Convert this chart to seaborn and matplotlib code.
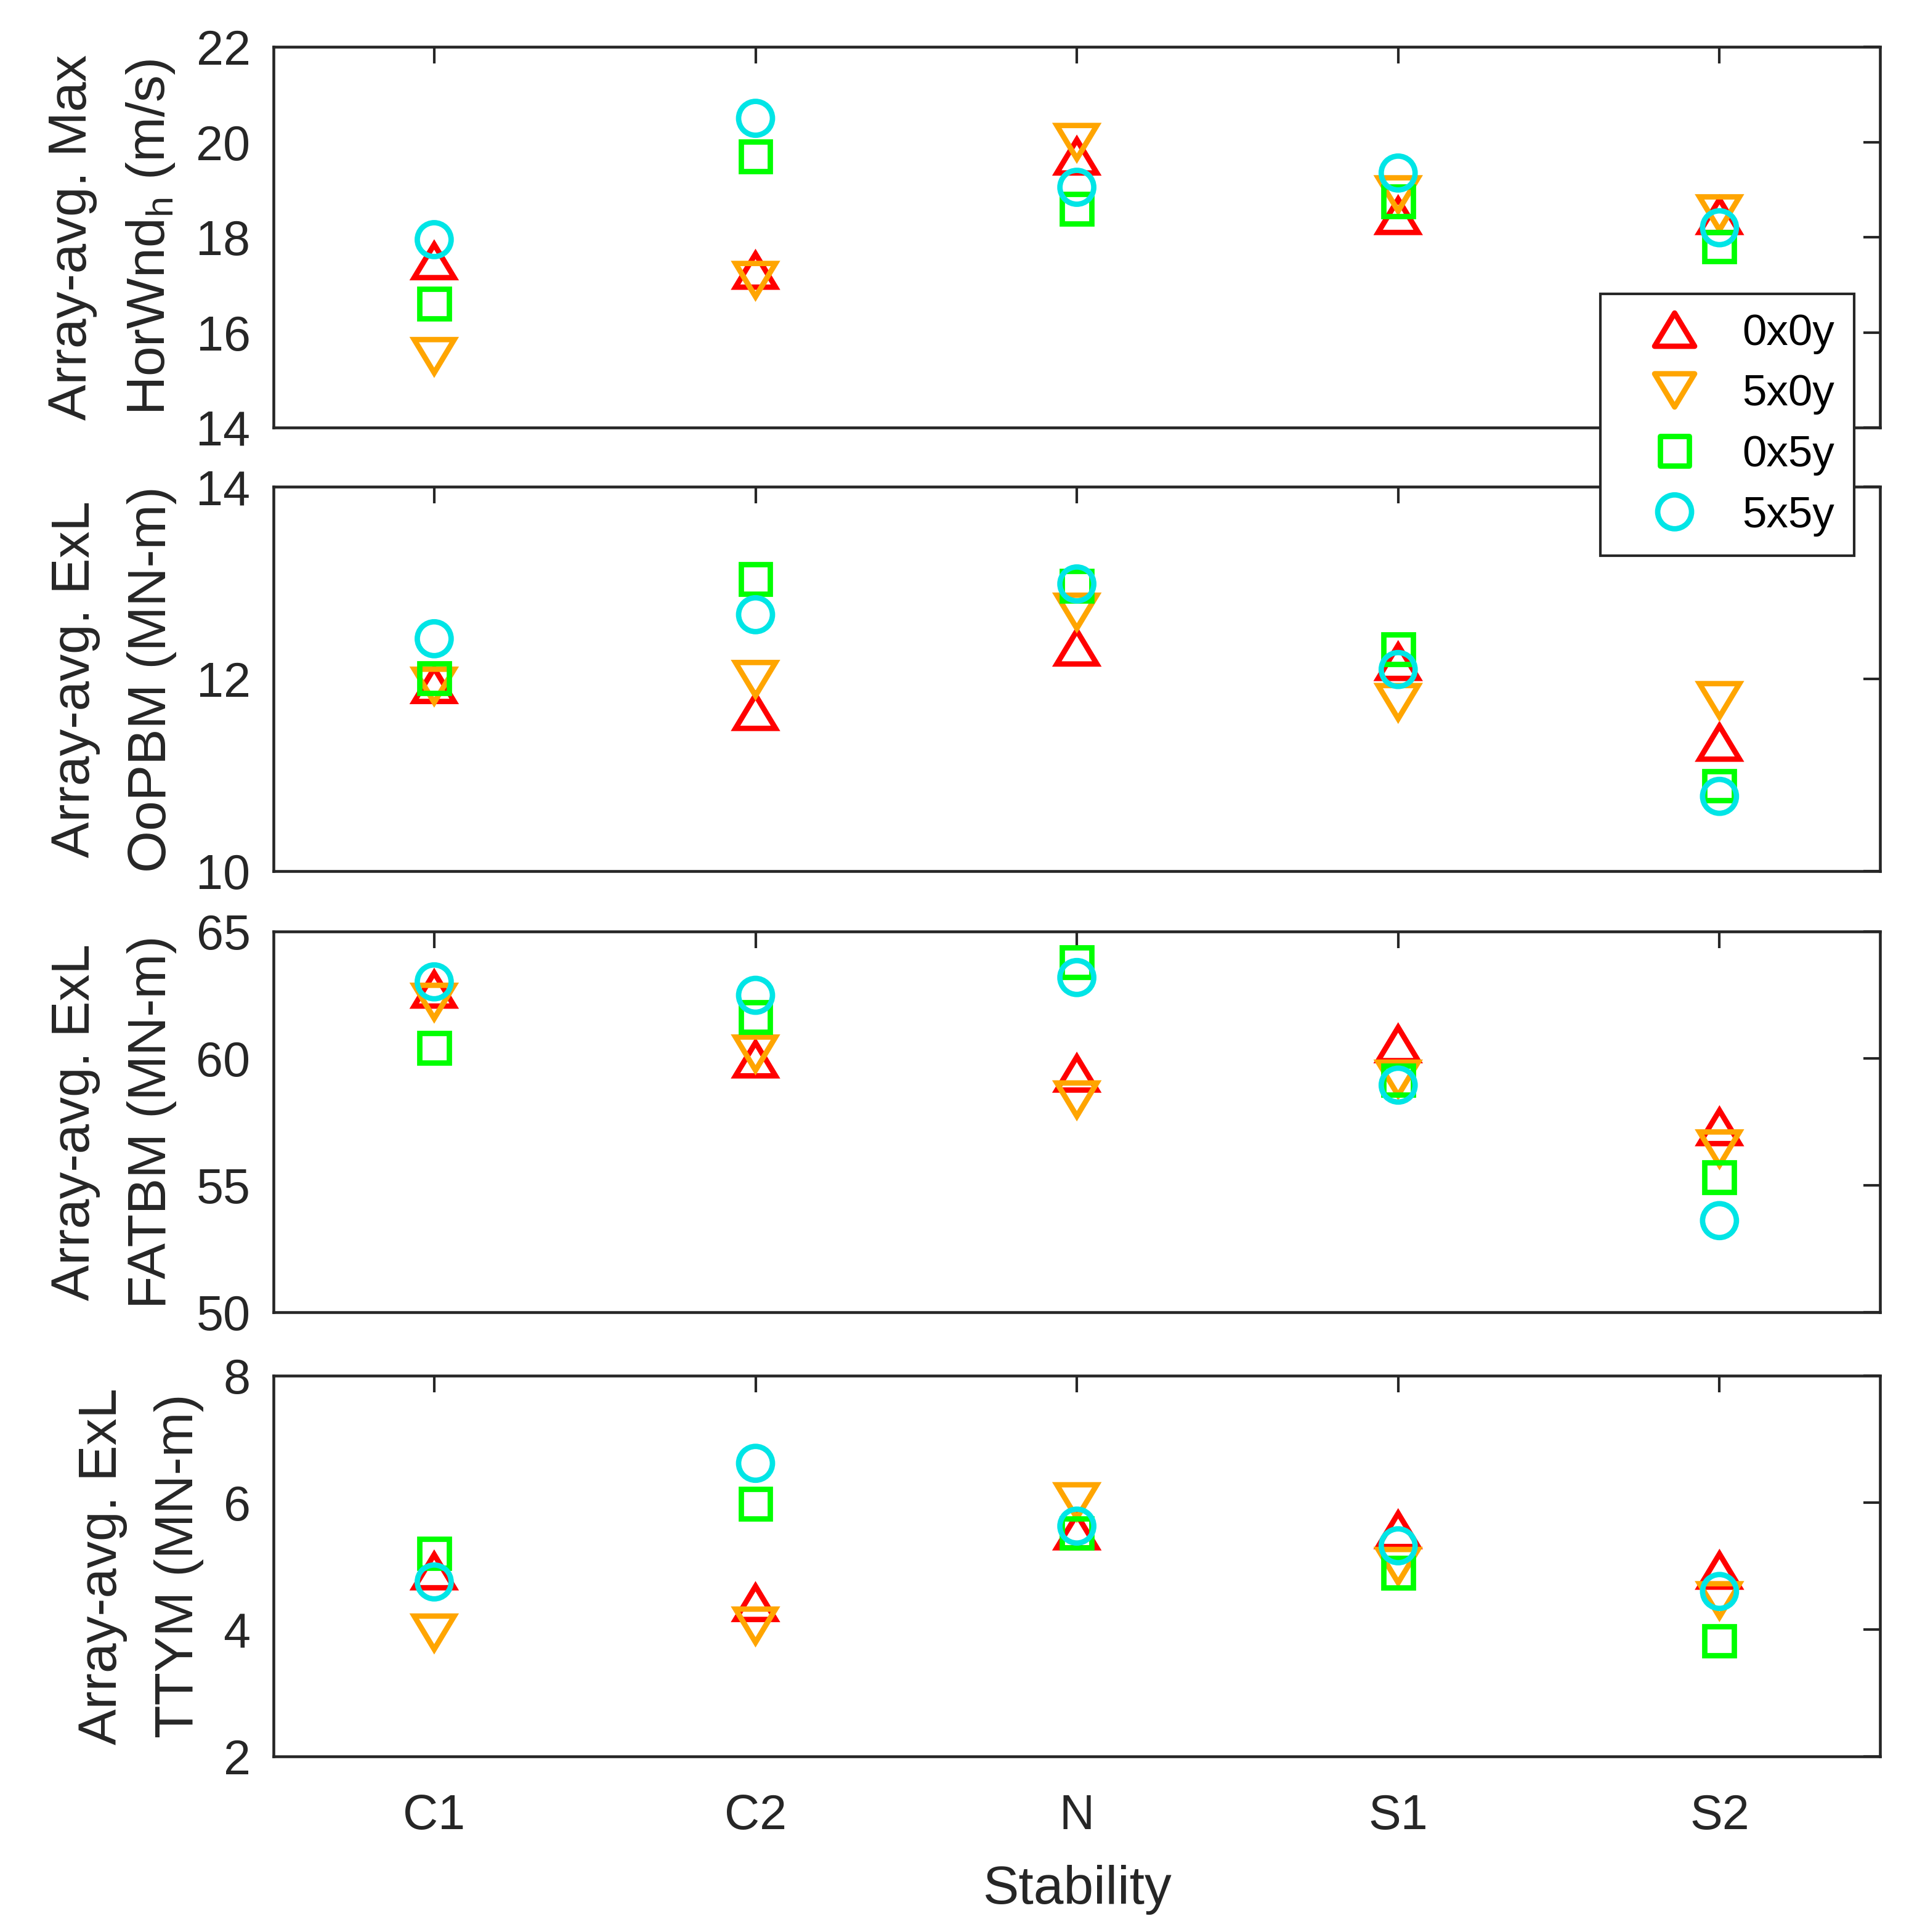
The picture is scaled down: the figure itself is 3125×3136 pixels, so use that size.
import matplotlib
matplotlib.use("Agg")
import matplotlib.pyplot as plt
from matplotlib.path import Path
import pandas as pd
import seaborn as sns

# categorias e casos
stability = ['C1', 'C2', 'N', 'S1', 'S2']
cases = ['0x0y', '5x0y', '0x5y', '5x5y']

# Array-avg. Max HorWnd_h (m/s)
hw_0x0y = [17.50, 17.30, 19.70, 18.45, 18.45]
hw_5x0y = [15.50, 17.10, 20.00, 18.90, 18.50]
hw_0x5y = [16.60, 19.70, 18.60, 18.75, 17.80]
hw_5x5y = [17.95, 20.50, 19.05, 19.35, 18.20]

# Array-avg. ExL OoPBM (MN-m)
oop_0x0y = [11.94, 11.66, 12.33, 12.18, 11.34]
oop_5x0y = [11.93, 12.00, 12.70, 11.76, 11.78]
oop_0x5y = [12.01, 13.04, 12.97, 12.31, 10.89]
oop_5x5y = [12.42, 12.67, 12.99, 12.10, 10.78]

# Array-avg. ExL FATBM (MN-m)
fat_0x0y = [62.72, 59.97, 59.41, 60.57, 57.30]
fat_5x0y = [62.23, 60.19, 58.38, 59.20, 56.45]
fat_0x5y = [60.41, 61.64, 63.80, 59.14, 55.31]
fat_5x5y = [63.02, 62.49, 63.19, 58.95, 53.61]

# Array-avg. ExL TTYM (MN-m)
tty_0x0y = [4.92, 4.42, 5.55, 5.57, 4.93]
tty_5x0y = [3.95, 4.06, 6.02, 5.00, 4.46]
tty_0x5y = [5.20, 5.98, 5.52, 4.89, 3.82]
tty_5x5y = [4.75, 6.62, 5.63, 5.32, 4.60]

ylabels = ['Array-avg. Max\nHorWnd$_\\mathregular{h}$ (m/s)',
           'Array-avg. ExL\nOoPBM (MN-m)',
           'Array-avg. ExL\nFATBM (MN-m)',
           'Array-avg. ExL\nTTYM (MN-m)']
ylims = [(14, 22), (10, 14), (50, 65), (2, 8)]
yticks = [[14, 16, 18, 20, 22], [10, 12, 14], [50, 55, 60, 65], [2, 4, 6, 8]]

panels = [
    [hw_0x0y, hw_5x0y, hw_0x5y, hw_5x5y],
    [oop_0x0y, oop_5x0y, oop_0x5y, oop_5x5y],
    [fat_0x0y, fat_5x0y, fat_0x5y, fat_5x5y],
    [tty_0x0y, tty_5x0y, tty_0x5y, tty_5x5y],
]

# marcadores estilo MATLAB (triangulos mais achatados)
tri_up = Path([(-1, -0.83), (1, -0.83), (0, 0.83), (-1, -0.83)], closed=True)
tri_dn = Path([(-1, 0.83), (1, 0.83), (0, -0.83), (-1, 0.83)], closed=True)
markers = [tri_up, tri_dn, 's', 'o']
sizes = [243, 243, 132, 174]
colors = ['#FF0000', '#FFA500', '#00FF00', '#00E5E6']

sns.set_theme(style='white')
plt.rcParams['font.family'] = ['Liberation Sans', 'DejaVu Sans']
plt.rcParams['mathtext.fontset'] = 'custom'
plt.rcParams['mathtext.rm'] = 'Liberation Sans'

fig = plt.figure(figsize=(3125 / 300, 3136 / 300), dpi=300)
bottoms = [0.7787, 0.5490, 0.3208, 0.0909]
heights = [0.197, 0.199, 0.197, 0.197]
dark = '#262626'

axes = []
for i, vals in enumerate(panels):
    ax = fig.add_axes([0.1421, bottoms[i], 0.8346, heights[i]])
    axes.append(ax)
    for j, case in enumerate(cases):
        df = pd.DataFrame({'Stability': stability, 'Valor': vals[j]})
        sns.scatterplot(data=df, x='Stability', y='Valor', ax=ax,
                        marker=markers[j], s=sizes[j], color=colors[j],
                        facecolor='none', edgecolor=colors[j],
                        linewidth=2.1, joinstyle='miter', label=case,
                        legend=False, zorder=3)
    ax.set_xlim(-0.5, 4.5)
    ax.set_ylim(*ylims[i])
    ax.set_yticks(yticks[i])
    ax.set_ylabel(ylabels[i], fontsize=21, color=dark, linespacing=1.68, labelpad=7.5)
    ax.tick_params(axis='both', direction='in', length=6.5, width=1.0,
                   top=True, right=True, labelsize=19, labelcolor=dark, color=dark)
    ax.tick_params(axis='x', pad=14.3)
    ax.tick_params(axis='y', pad=9)
    for sp in ax.spines.values():
        sp.set_linewidth(1.1)
        sp.set_color(dark)
    if i < 3:
        ax.set_xlabel('')
        ax.tick_params(axis='x', labelbottom=False)
    else:
        ax.set_xlabel('Stability', fontsize=21, color=dark, labelpad=10)

handles, labels = axes[0].get_legend_handles_labels()
leg = fig.legend(handles, labels, loc='upper left', bbox_to_anchor=(0.8314, 0.8479),
                 borderaxespad=0, fontsize=17, frameon=True, fancybox=False,
                 framealpha=1, edgecolor=dark, handlelength=2.5, handletextpad=0.3,
                 labelspacing=0.46, borderpad=0.45, scatterpoints=1, scatteryoffsets=[0.5])
leg.get_frame().set_linewidth(1.0)
for t in leg.get_texts():
    t.set_color('black')

fig.savefig('out.png', dpi=300)
